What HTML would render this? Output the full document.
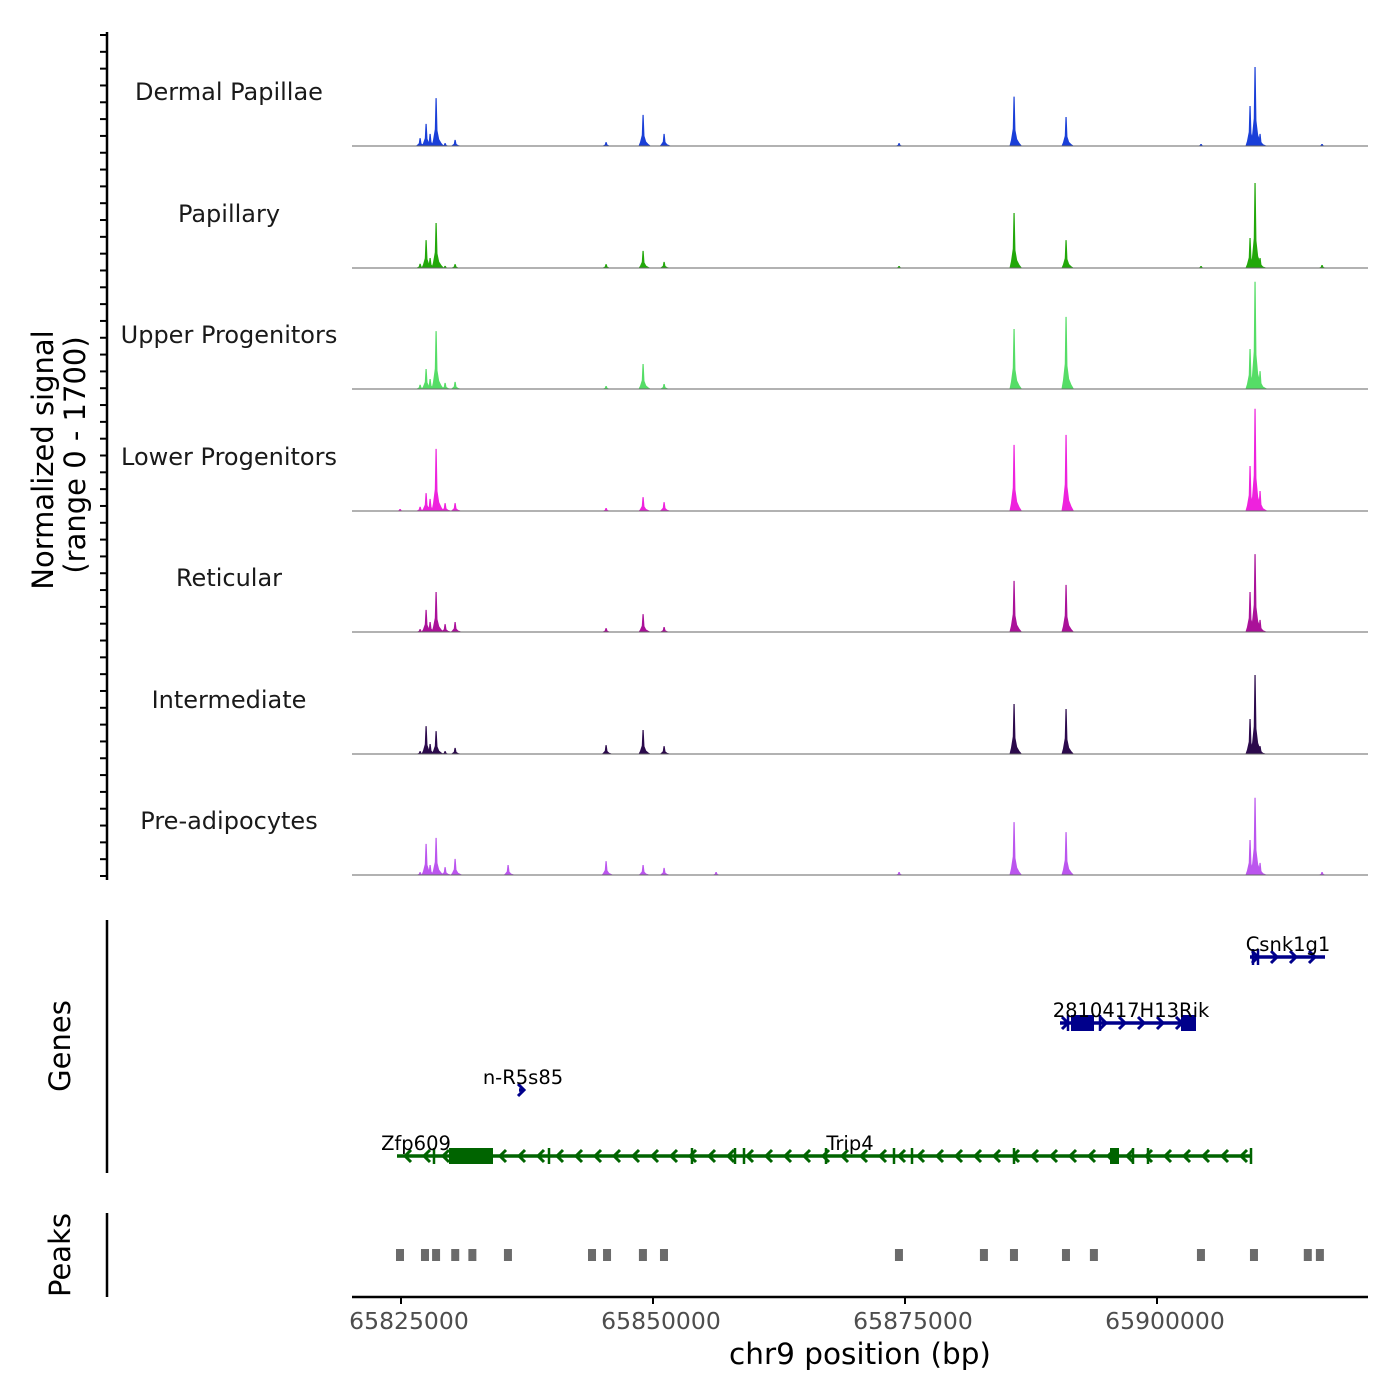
<!DOCTYPE html>
<html><head><meta charset="utf-8"><style>
body{margin:0;background:#fff}
svg{display:block;font-family:"DejaVu Sans","Liberation Sans",sans-serif}
</style></head><body>
<svg id="chart" width="1400" height="1400" viewBox="0 0 1400 1400">
<g id="ytitles">
<text transform="translate(53,460) rotate(-90)" text-anchor="middle" font-size="29" fill="#000">Normalized signal</text>
<text transform="translate(85,455) rotate(-90)" text-anchor="middle" font-size="29" fill="#000">(range 0 - 1700)</text>
<text transform="translate(70,1046) rotate(-90)" text-anchor="middle" font-size="29" fill="#000">Genes</text>
<text transform="translate(70,1255) rotate(-90)" text-anchor="middle" font-size="29" fill="#000">Peaks</text>
</g>
<g id="tracks"></g>
<g id="genes"></g>
<g id="peaks"></g>
<g id="xaxis"></g>
</svg>
<script>
// ---- data ----
const trackNames = ["Dermal Papillae","Papillary","Upper Progenitors","Lower Progenitors","Reticular","Intermediate","Pre-adipocytes"];
const trackColors = ["#1a3fd8","#22a80a","#55dd66","#ee22dd","#aa1199","#2c0a4c","#bb55ee"];
const peakPositions = [65824900,65826885,65827480,65827877,65828472,65829365,65830357,65835614,65845336,65849006,65851090,65856248,65874402,65885810,65890968,65904360,65909221,65909717,65910213,65916363];
const sigDermal       = [0,110,310,170,670,40,85,0,55,435,170,0,40,690,405,28,560,1105,170,28];
const sigPapillary    = [0,60,390,140,630,30,55,0,55,240,85,0,28,770,390,28,420,1190,140,42];
const sigUpper        = [0,60,280,140,810,85,100,0,42,350,70,0,0,840,1010,0,560,1500,250,0];
const sigLower        = [28,60,250,170,870,110,110,0,42,195,125,0,0,925,1065,0,630,1430,280,0];
const sigReticular    = [0,40,310,140,560,110,140,0,55,250,70,0,0,715,660,0,560,1090,170,0];
const sigIntermediate = [0,40,390,140,320,40,85,0,125,335,110,0,0,700,630,0,490,1105,110,0];
const sigPreadipo     = [0,40,435,140,520,110,225,140,195,140,100,42,42,740,600,0,490,1080,170,42];
const trackSignals = [sigDermal,sigPapillary,sigUpper,sigLower,sigReticular,sigIntermediate,sigPreadipo];
const peakStarts = [65824900,65827380,65828480,65830380,65832080,65835610,65843950,65845440,65849000,65851090,65874400,65882830,65885810,65890970,65893740,65904360,65909620,65914960,65916160];
const xTicks = [65825000,65850000,65875000,65900000];
const xTickLabels = ["65825000","65850000","65875000","65900000"];

// ---- scales ----
const X0=352,X1=1368,BP0=65820139,BP1=65920933;
function xs(bp){return X0+(bp-BP0)/(BP1-BP0)*(X1-X0);}
const trackBase=[146,268,389,511,632,754,875];
const trackH=121.5;
function ys(v){return v/1700*trackH;}
const NS="http://www.w3.org/2000/svg";
function mk(tag,attrs,parent){const e=document.createElementNS(NS,tag);for(const k in attrs)e.setAttribute(k,attrs[k]);parent.appendChild(e);return e;}

const tracks=document.getElementById('tracks');
const sp=mk('line',{x1:107,y1:32,x2:107,y2:880,stroke:'#000','stroke-width':2.5},tracks);


for(let k=0;k<51;k++){
  const y=35+k*(876-35)/50;
  const tk=mk('line',{x1:100,y1:y,x2:107,y2:y,stroke:'#000','stroke-width':2},tracks);
  
  
}

for(let t=0;t<trackNames.length;t++){
  const g=mk('g',{},tracks);
  
  
  const b=trackBase[t];
  const lab=mk('text',{x:229,y:b-121.5+75.5,'text-anchor':'middle','font-size':24,fill:'#1a1a1a'},g);
  lab.textContent=trackNames[t];
  
  
  const vals=trackSignals[t];
  for(let i=0;i<peakPositions.length;i++){
    const h=ys(vals[i]); if(h<=0) continue;
    const x=xs(peakPositions[i]);
    const d=`M${x-4.5},${b} L${x-3},${b-h*0.12} L${x-1.2},${b-h*0.35} L${x-0.5},${b-h} L${x+0.7},${b-h} L${x+1.5},${b-h*0.32} L${x+3.2},${b-h*0.14} L${x+5.5},${b-h*0.06} L${x+8},${b} Z`;
    const p=mk('path',{d:d,fill:trackColors[t]},g);
    
    
  }
  const bl=mk('line',{x1:X0,y1:b,x2:X1,y2:b,stroke:'#666','stroke-width':1},g);
  
  
}

// ---- genes ----
const genes=document.getElementById('genes');
const gs=mk('line',{x1:107,y1:920,x2:107,y2:1173,stroke:'#000','stroke-width':2.5},genes);


function gene(name,x1,x2,y,color,dir,boxes,exons,lx,ly){
  const g=mk('g',{},genes);
  
  
  mk('line',{x1:x1,y1:y,x2:x2,y2:y,stroke:color,'stroke-width':3.5},g);
  const start=(x2-x1<10)?x2+2:x1+8;
  for(let x=start;x<=x2+4;x+=19){
    const d=dir<0?`M${x+6},${y-6} L${x},${y} L${x+6},${y+6}`:`M${x-6},${y-6} L${x},${y} L${x-6},${y+6}`;
    mk('path',{d:d,stroke:color,'stroke-width':3,fill:'none'},g);
  }
  boxes.forEach(bx=>mk('rect',{x:bx[0],y:y-8,width:bx[1]-bx[0],height:16,fill:color},g));
  exons.forEach(ex=>mk('line',{x1:ex,y1:y-8,x2:ex,y2:y+8,stroke:color,'stroke-width':2.5},g));
  const t=mk('text',{x:lx,y:ly,'text-anchor':'middle','font-size':19.5,fill:'#000'},g);
  t.textContent=name;
}
gene('Zfp609',397,1251,1156,'#006400',-1,[[449,493],[1110,1119]],[434,549,692,735,744,826,894,912,1014,1133,1148,1251],416,1150);
const trip=mk('text',{x:850,y:1150,'text-anchor':'middle','font-size':19.5,fill:'#000'},genes);
trip.textContent='Trip4';


gene('n-R5s85',519,522,1090,'#00008b',1,[],[],523,1084);
gene('2810417H13Rik',1060,1196,1023,'#00008b',1,[[1071,1094],[1181,1196]],[1068,1100],1131,1017);
gene('Csnk1g1',1250,1325,957,'#00008b',1,[],[1253,1258],1288,951);

// ---- peaks ----
const peaks=document.getElementById('peaks');
const ps=mk('line',{x1:107,y1:1213,x2:107,y2:1297,stroke:'#000','stroke-width':2.5},peaks);


peakStarts.forEach(s=>{
  const x=xs(s);
  const r=mk('rect',{x:x-4,y:1249,width:8,height:12,fill:'#6b6b6b'},peaks);
  
  
});

// ---- x axis ----
const xa=document.getElementById('xaxis');
const al=mk('line',{x1:X0,y1:1297,x2:X1,y2:1297,stroke:'#000','stroke-width':2.5},xa);


xTicks.forEach((v,i)=>{
  const x=xs(v);
  const l=mk('line',{x1:x,y1:1297,x2:x,y2:1304,stroke:'#000','stroke-width':2},xa);
  
  
  const t=mk('text',{x:x+8,y:1329,'text-anchor':'middle','font-size':23.5,fill:'#4d4d4d'},xa);
  t.textContent=xTickLabels[i];
  
  
});
const xt=mk('text',{x:860,y:1364,'text-anchor':'middle','font-size':29.5,fill:'#000'},xa);
xt.textContent='chr9 position (bp)';


</script>
</body></html>
